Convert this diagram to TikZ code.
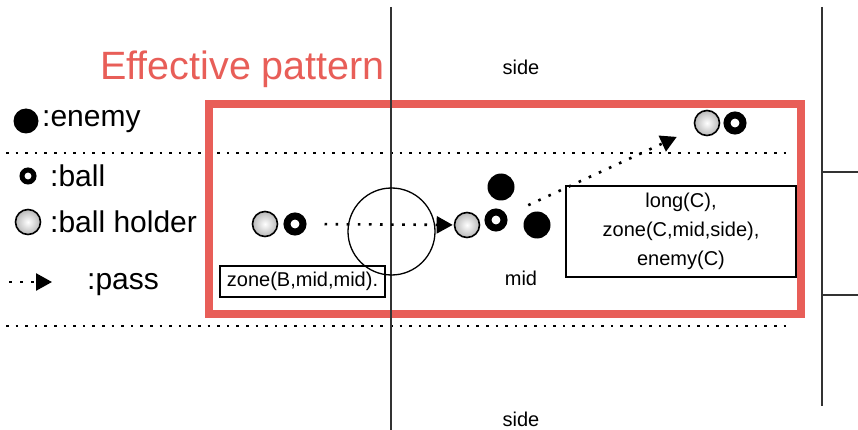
\documentclass[tikz,border=0pt]{standalone}
\usepackage{fontspec}
\setmainfont{Liberation Sans}
\usetikzlibrary{arrows.meta}
\definecolor{patred}{RGB}{232,94,88}

\begin{document}
\begin{tikzpicture}
        [
            x=1pt, y=-1pt,
            every node/.style={inner sep=0pt},
            enemy/.style={circle, fill=black, minimum size=27pt},
            ball/.style={circle, draw=black, line width=7pt, fill=white, minimum size=16pt},
            smallball/.style={circle, draw=black, line width=5pt, fill=white, minimum size=12pt},
            holder/.style={circle, draw=black, line width=1.6pt, inner color=white, outer color=gray!55, minimum size=25pt},
            pass/.style={line width=2.6pt, dash pattern=on 2.6pt off 8.5pt, -{Triangle[length=16pt, width=17pt]}},
            zoneline/.style={line width=2.6pt, dash pattern=on 2.6pt off 7pt},
            fieldline/.style={line width=1.1pt, black!80},
            legendtext/.style={anchor=west, font=\fontsize{30}{32}\selectfont},
            fieldtext/.style={font=\fontsize{20}{24}\selectfont},
            tag/.style={draw, line width=1.1pt, align=center, font=\fontsize{20}{29}\selectfont}
        ]
        \useasboundingbox (0,0) rectangle (858,430);

        % field
        \draw[zoneline] (6,153) -- (786,153);
        \draw[zoneline] (6,326) -- (786,326);
        \draw[patred, line width=8pt] (209,104) rectangle (801,314);
        \draw[fieldline] (391,7) -- (391,430);
        \draw[fieldline] (822,7) -- (822,406);
        \draw[fieldline] (822,172) -- (858,172);
        \draw[fieldline] (822,295) -- (858,295);
        \node[circle, draw, line width=1.3pt, minimum size=87pt] (centre) at (391.5,231.5) {};

        \node[fieldtext] (sidetop) at (521,67) {side};
        \node[fieldtext] (mid) at (521,278) {mid};
        \node[fieldtext] (sidebot) at (521,419) {side};

        \node[anchor=base west, text=patred, font=\fontsize{39.5}{42}\selectfont] (title) at (100,80) {Effective pattern};

        % legend
        \node[enemy, minimum size=25pt] (legenemy) at (26,121) {};
        \node[legendtext] at (42,122) {:enemy};
        \node[smallball] (legball) at (28,176) {};
        \node[legendtext] at (50,176) {:ball};
        \node[holder] (legholder) at (28,222) {};
        \node[legendtext] at (50,222) {:ball holder};
        \coordinate (legpassa) at (9,282);
        \coordinate (legpassb) at (52,282);
        \draw[pass] (legpassa) -- (legpassb);
        \node[legendtext] at (87,285) {:pass};

        % players
        \node[holder] (holderB) at (265,224) {};
        \node[ball] (ballB) at (295,224) {};
        \node[holder] (holderC) at (467,225) {};
        \node[ball] (ballC) at (496,220) {};
        \node[enemy] (enemyA) at (501,187) {};
        \node[enemy] (enemyB) at (537,225) {};
        \node[holder] (holderD) at (707,123) {};
        \node[ball] (ballD) at (735,123) {};

        % passes
        \draw[pass, shorten <=18pt, shorten >=1pt] (ballB) -- (holderC);
        \draw[pass, shorten <=24pt, shorten >=20pt] (ballC) -- (holderD);

        % conditions
        \node[tag, minimum width=165pt, minimum height=31pt] (zoneB) at (302.5,281.5) {zone(B,mid,mid).};
        \node[tag, minimum width=230pt, minimum height=91pt] (zoneC) at (681,231.5) {long(C),\\zone(C,mid,side),\\enemy(C)};
\end{tikzpicture}
\end{document}
